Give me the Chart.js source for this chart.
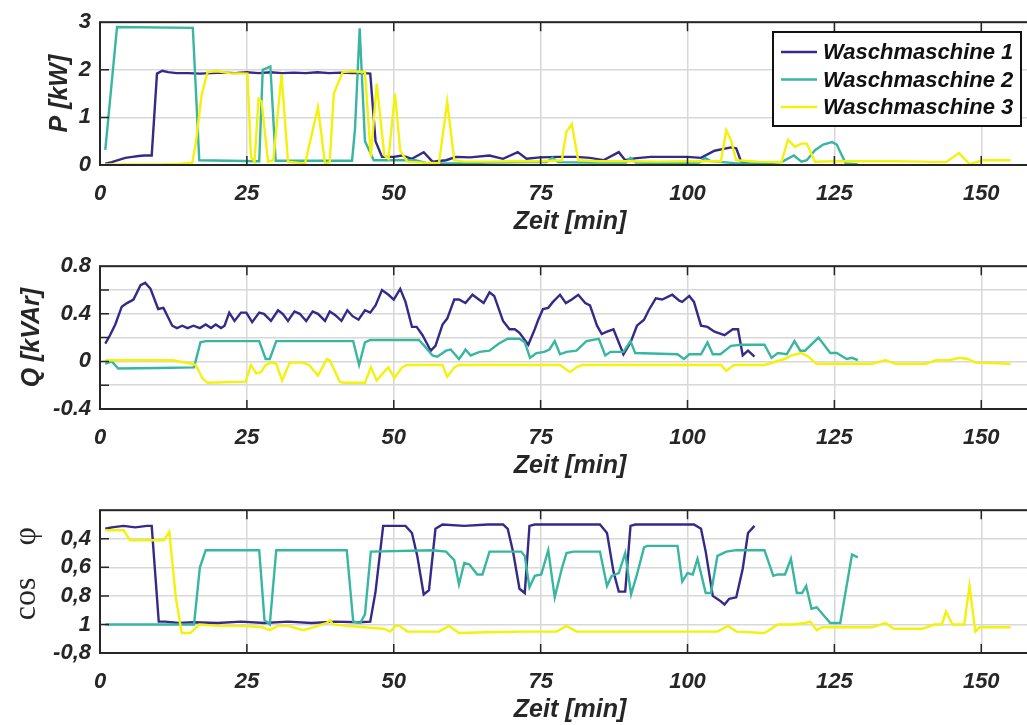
<!DOCTYPE html>
<html lang="de">
<head>
<meta charset="UTF-8">
<title>Waschmaschinen P / Q / cos phi</title>
<script src="https://cdn.jsdelivr.net/npm/chart.js"></script>
<style>
  body { margin:0; background:#fff; overflow:hidden; width:1027px; height:725px; }
  .panel { position:absolute; left:0; width:1040px; height:244px; }
</style>
</head>
<body>
<div class="panel" style="top:0px"><canvas id="chartP" width="1040" height="244"></canvas></div>
<div class="panel" style="top:244px"><canvas id="chartQ" width="1040" height="244"></canvas></div>
<div class="panel" style="top:488px"><canvas id="chartCos" width="1040" height="244"></canvas></div>
<script>
// ---- Daten (Zeit in min) ----
const seriesNames = ['Waschmaschine 1', 'Waschmaschine 2', 'Waschmaschine 3'];
const seriesColors = ['#352A87', '#38B6A0', '#F2F20C'];

// Wirkleistung P [kW]
const tP1 = [0.9,2,4.3,5.5,6.6,7.5,8.8,9.7,10.6,11.6,13,15,17,19,21,23,25,27,29,31,33,35,37,39,41,43,45,46,46.9,48,50,51.4,53.1,55.1,56.6,58.9,60.6,63,66.3,68.6,71.1,72.6,74.9,78,81,83.4,85.7,88.3,89.4,91,93.7,97,100,102.3,104.6,107.4,108.3,109.1,110.5];
const P1  = [0.03,0.06,0.15,0.17,0.19,0.2,0.2,1.92,1.98,1.95,1.93,1.93,1.92,1.93,1.94,1.93,1.95,1.93,1.95,1.93,1.94,1.93,1.95,1.93,1.94,1.93,1.93,1.92,0.5,0.17,0.17,0.2,0.13,0.27,0.07,0.1,0.17,0.16,0.2,0.13,0.27,0.13,0.16,0.17,0.17,0.15,0.1,0.27,0.1,0.14,0.17,0.17,0.17,0.15,0.3,0.37,0.35,0.08,0.02];
const tP2 = [0.9,2.9,15.8,16.9,27.1,27.7,29,29.9,42.9,43.4,44.2,45.1,46.6,53.7,56,61,66,72,76,77,78,84,89.5,90.3,91.2,96,102,103,104,108,113,116,118.1,119.4,120.3,121.7,123.1,124.6,125.4,126.9,129];
const P2  = [0.32,2.9,2.88,0.1,0.08,2.0,2.07,0.09,0.09,0.75,2.87,0.5,0.1,0.1,0.03,0.03,0.05,0.06,0.06,0.15,0.06,0.05,0.05,0.15,0.05,0.04,0.05,0.15,0.08,0.04,0.03,0.06,0.2,0.07,0.1,0.31,0.43,0.48,0.43,0.04,0.01];
const tP3 = [0.9,5,10,13.4,15.7,16.3,17.3,18.3,20,22,25.1,25.7,26.3,27,27.5,28.6,29.5,30.9,32,34.9,37.1,38.3,39.1,39.8,41.3,43,45.1,46.1,47.1,48.4,49.1,50.2,51.1,52.3,55,57.7,59.1,60.3,62,66,70,75,78.6,79.4,80.3,81.4,85,90,95,100,105.7,106.6,107.4,108.3,112,116,117.1,118.3,119.4,120.3,121.7,125,130,135,140,144,146.2,148,150.3,155];
const P3  = [0.01,0.01,0.01,0.02,0.05,0.45,1.47,1.95,1.97,1.93,1.92,0.17,0.07,1.39,1.33,0.07,0.1,1.9,0.07,0.03,1.21,0.03,0.06,1.5,1.95,1.97,1.95,0.17,1.71,0.2,0.13,1.5,0.3,0.07,0.05,0.04,1.33,0.1,0.07,0.07,0.08,0.08,0.1,0.7,0.86,0.1,0.08,0.08,0.07,0.08,0.08,0.73,0.52,0.1,0.07,0.06,0.53,0.38,0.45,0.45,0.07,0.08,0.08,0.08,0.07,0.06,0.25,0.02,0.1,0.1];

// Blindleistung Q [kVAr]
const tQ1 = [0.9,1.7,2.6,3.7,4.6,5.7,6.9,7.7,8.6,9.9,10.8,12.3,13.1,14,14.9,15.9,17,18,18.9,19.7,20.6,21.2,22,22.9,24,24.9,25.9,27.1,27.9,29.1,30.3,31.1,32,33.1,34,35.1,36.2,37.1,38.3,39.1,40,41.1,42.1,43,44,45.1,46,46.9,48,49.1,50,51.1,52,53.1,53.9,54.9,56.3,57.1,58.3,59.1,60.3,61.1,62.2,63.4,64.2,65.3,66.3,67.1,68.6,69.7,70.6,71.4,72.9,74,74.6,75.4,76.3,77.1,78.3,79.3,80.3,81.4,82.6,83.4,84.6,85.4,86.3,87.4,89.1,90.3,91.4,92.6,93.4,94.6,95.7,97.4,98.6,99.1,100.3,101.1,102.3,103.4,104.6,106.3,107.7,108.6,109.4,110.3,111.4];
const Q1  = [0.15,0.22,0.31,0.46,0.49,0.52,0.64,0.66,0.61,0.44,0.45,0.3,0.28,0.3,0.28,0.3,0.28,0.31,0.28,0.31,0.28,0.3,0.41,0.34,0.41,0.41,0.33,0.41,0.4,0.34,0.43,0.4,0.34,0.42,0.4,0.34,0.42,0.4,0.34,0.42,0.39,0.34,0.43,0.38,0.35,0.43,0.41,0.47,0.6,0.56,0.52,0.61,0.5,0.29,0.29,0.22,0.09,0.13,0.31,0.36,0.52,0.52,0.49,0.56,0.53,0.49,0.58,0.55,0.34,0.27,0.27,0.24,0.14,0.27,0.35,0.44,0.45,0.5,0.56,0.49,0.52,0.56,0.49,0.47,0.3,0.23,0.25,0.27,0.06,0.16,0.3,0.35,0.43,0.53,0.52,0.56,0.51,0.5,0.55,0.5,0.3,0.29,0.25,0.22,0.27,0.27,0.05,0.09,0.04];
const tQ2 = [0.9,2,3.1,10,16,17.1,18,27.1,28.2,28.9,30,43.1,44.1,45.1,46,54.3,55.4,56.6,57.4,58.9,59.7,61.1,61.7,62.2,63.1,64.6,66.3,67.9,69.4,71.4,72.3,73.2,74.3,75.6,76.5,77.4,78.3,79.4,81.1,82.8,84.9,86,86.9,89.1,90.3,91.1,98.3,99.4,100.3,102.3,103.4,104.3,105.6,107.4,109.1,113.1,114.3,115.4,116.9,118.2,119.2,120,122.3,124.3,125.4,127.1,128,129];
const Q2  = [-0.02,0,-0.06,-0.055,-0.05,0.16,0.17,0.17,0.02,0.02,0.17,0.17,-0.03,0.16,0.18,0.18,0.12,0.05,0.04,0.09,0.1,0.02,0.06,0.1,0.05,0.08,0.09,0.15,0.19,0.19,0.16,0.03,0.07,0.08,0.1,0.17,0.06,0.08,0.09,0.17,0.19,0.05,0.08,0.08,0.17,0.07,0.06,0.02,0.06,0.06,0.16,0.06,0.06,0.13,0.14,0.14,0.03,0.07,0.06,0.17,0.09,0.09,0.2,0.07,0.07,0.02,0.03,0.01];
const tQ3 = [0.9,5,12.3,15.7,16.3,17.4,18.3,24.8,25.7,26.6,27.4,28.2,29.1,30,31,32.3,34.5,35.6,37.1,38.6,39.1,40.8,41.4,45.1,46.1,47.1,48.3,49.1,50.1,51.4,52.3,58.3,59.1,60.3,61.1,78.3,80,81.1,82,105.7,106.6,107.9,113.1,116.5,117.7,119.4,120.6,121.9,131.4,133.7,135.4,140.6,142.3,144.5,146.3,147.7,149.1,155];
const Q3  = [0.01,0.01,0.01,-0.02,-0.03,-0.14,-0.18,-0.17,-0.03,-0.1,-0.09,-0.03,-0.01,-0.02,-0.16,-0.01,-0.01,-0.03,-0.12,0.02,0.01,-0.17,-0.18,-0.18,-0.05,-0.16,-0.09,-0.05,-0.14,-0.05,-0.03,-0.03,-0.13,-0.05,-0.03,-0.03,-0.09,-0.05,-0.03,-0.03,-0.08,-0.03,-0.03,0.02,0.05,0.07,0.04,-0.02,-0.02,0.01,-0.02,-0.02,0.01,0.01,0.03,0.02,-0.01,-0.02];

// cos phi, gefaltete Achse: Werte > 1 stehen fuer kapazitiv (1.2 = -0,8)
const tC1 = [0.9,2,4,6,8,8.8,10,11.1,13.4,16,20,24,28,32,36,40,44,46,46.9,48.2,52,53.1,54,55.1,56,57.1,58.3,62,66,68.6,69.4,70.3,71.4,72.3,73.1,74,80,85.1,86.3,87.4,88.3,89.4,90.3,91.1,96,101.1,102.3,103.1,104.3,105.4,106.3,107.1,108.3,109.4,110.3,111.4];
const C1  = [0.33,0.32,0.31,0.32,0.31,0.31,0.98,0.98,0.99,0.985,0.99,0.98,0.99,0.98,0.99,0.98,0.985,0.98,0.77,0.31,0.31,0.36,0.52,0.79,0.76,0.33,0.3,0.31,0.3,0.3,0.33,0.49,0.75,0.78,0.31,0.3,0.3,0.3,0.36,0.63,0.77,0.77,0.31,0.3,0.3,0.3,0.33,0.49,0.8,0.83,0.86,0.82,0.81,0.61,0.36,0.31];
const tC2 = [0.9,16,17,18,27.1,28,28.9,30,42,43.1,44.3,45.1,46.1,56.6,58.9,60.3,61.1,62,62.9,64.2,65.1,66.3,71.7,72.3,73.1,74,75.1,76.3,77.4,78.6,79.4,80.6,85.1,86.3,87.1,88.3,89.4,90.4,91.4,92.6,93.1,98.3,99.1,100,100.9,101.7,103.1,104,105.1,106.6,108.3,113.1,114.6,115.4,116.6,117.6,118.6,119.5,120.2,121.1,122,124.3,126,128,129];
const C2  = [1,1,0.6,0.48,0.48,0.97,1,0.48,0.48,0.98,0.99,0.93,0.49,0.48,0.49,0.55,0.72,0.57,0.58,0.65,0.65,0.49,0.49,0.52,0.74,0.66,0.65,0.48,0.81,0.61,0.5,0.49,0.49,0.73,0.66,0.64,0.5,0.79,0.65,0.46,0.45,0.45,0.7,0.64,0.65,0.54,0.78,0.78,0.52,0.49,0.48,0.48,0.66,0.65,0.65,0.54,0.78,0.78,0.73,0.89,0.88,0.99,0.99,0.51,0.53];
const tC3 = [0.9,4,5.1,10.9,11.8,12.9,13.9,15.4,16.9,20,24,27.7,28.9,30.3,32,34.6,36.3,38.6,39.1,39.7,42,44.9,48.3,49.4,50.3,51,52.3,57.7,59.4,61.1,66,72,77.7,79.4,81.1,90,100,105.1,106.9,108.3,113.1,115.4,118,120,120.9,122,122.9,131.4,133.7,135.1,140,142.1,143.3,144,145.1,147.1,148,149,149.7,155];
const C3  = [0.34,0.34,0.41,0.41,0.35,0.81,1.06,1.06,1,1.01,1.01,1.02,1.04,1.01,1.01,1.04,1.02,0.99,0.97,1,1.01,1.02,1.03,1.05,1.01,1.01,1.05,1.05,1.01,1.06,1.055,1.05,1.05,1.01,1.05,1.05,1.05,1.05,1.01,1.05,1.06,1,1,0.99,0.98,1.04,1.02,1.02,0.99,1.03,1.03,1,1,0.91,1,1,0.73,1.05,1.02,1.02];

// Achsbeschriftungen (Index = (Wert - min) / Schritt)
const xTickLabels = ['0', '25', '50', '75', '100', '125', '150'];
const pTickLabels = ['0', '1', '2', '3'];
const qTickLabels = ['-0.4', '', '0', '', '0.4', '', '0.8'];
const cosTickLabels = ['', '0,4', '0,6', '0,8', '1', '-0,8'];

// ---- Darstellung ----
const textColor = '#262626';
const gridColor = '#d8d8d8';
const fontSans = '"Liberation Sans", Arial, sans-serif';
const tickFont = { family: fontSans, size: 22, weight: 'bold', style: 'italic' };
const titleFont = { family: fontSans, size: 25, weight: 'bold', style: 'italic' };

function pts(t, v) { return t.map((x, i) => ({ x: x, y: v[i] })); }
function labelAt(list, min, step) { return v => list[Math.round((v - min) / step)]; }

function makeSets(list) {
  return list.map((d, i) => ({
    label: seriesNames[i],
    data: pts(d[0], d[1]),
    borderColor: seriesColors[i],
    backgroundColor: seriesColors[i],
    borderWidth: 2.4,
    pointRadius: 0,
    tension: 0,
    order: 2 - i
  }));
}

// Rahmen + nach innen zeigende Striche (MATLAB-Stil)
const framePlugin = {
  id: 'frame',
  afterDatasetsDraw(chart) {
    const { ctx, chartArea: a, scales } = chart;
    ctx.save();
    ctx.strokeStyle = textColor;
    ctx.lineWidth = 1.5;
    ctx.beginPath();
    scales.x.ticks.forEach(tk => {
      if (tk.value <= scales.x.min) return;
      const px = scales.x.getPixelForValue(tk.value);
      ctx.moveTo(px, a.bottom); ctx.lineTo(px, a.bottom - 9);
      ctx.moveTo(px, a.top); ctx.lineTo(px, a.top + 9);
    });
    scales.y.ticks.forEach(tk => {
      if (tk.value <= scales.y.min + 1e-6 || tk.value >= scales.y.max - 1e-6) return;
      const py = scales.y.getPixelForValue(tk.value);
      ctx.moveTo(a.left, py); ctx.lineTo(a.left + 9, py);
    });
    ctx.stroke();
    ctx.lineWidth = 2;
    ctx.strokeRect(a.left, a.top, a.right - a.left, a.bottom - a.top);
    ctx.restore();
  }
};

// Legende im Diagramm oben rechts
const boxLegend = {
  id: 'boxLegend',
  afterDraw(chart, args, opts) {
    if (!opts.show) return;
    const { ctx } = chart;
    const x0 = 773, y0 = 32, w = 248, h = 94;
    ctx.save();
    ctx.fillStyle = '#fff';
    ctx.fillRect(x0, y0, w, h);
    ctx.strokeStyle = '#111';
    ctx.lineWidth = 2;
    ctx.strokeRect(x0, y0, w, h);
    ctx.font = 'italic bold 22px ' + fontSans;
    ctx.textBaseline = 'middle';
    chart.data.datasets.forEach((ds, i) => {
      const cy = y0 + 20 + i * 27.5;
      ctx.strokeStyle = ds.borderColor;
      ctx.lineWidth = 2.4;
      ctx.beginPath();
      ctx.moveTo(x0 + 8, cy); ctx.lineTo(x0 + 44, cy);
      ctx.stroke();
      ctx.fillStyle = '#111';
      ctx.fillText(ds.label, x0 + 50, cy + 1);
    });
    ctx.restore();
  }
};

function makeChart(id, sets, yOpts, yTitle, showLegend) {
  return new Chart(document.getElementById(id), {
    type: 'line',
    data: { datasets: sets },
    plugins: [framePlugin, boxLegend],
    options: {
      responsive: false,
      animation: false,
      layout: { padding: { top: 19, left: 0, right: 0, bottom: 0 } },
      plugins: { legend: { display: false }, tooltip: { enabled: false }, boxLegend: { show: showLegend } },
      scales: {
        x: {
          type: 'linear', min: 0, max: 160,
          afterFit: s => { s.height = 79; },
          ticks: {
            stepSize: 25, includeBounds: false, maxRotation: 0, autoSkip: false, padding: 16,
            color: textColor, font: tickFont,
            callback: labelAt(xTickLabels, 0, 25)
          },
          grid: { color: gridColor, lineWidth: 1.5, drawTicks: false },
          border: { display: false },
          title: { display: true, text: 'Zeit [min]', color: textColor, font: titleFont, padding: { top: 0, bottom: 7 } }
        },
        y: Object.assign({
          afterFit: s => { s.width = 100; },
          grid: { color: gridColor, lineWidth: 1.5, drawTicks: false },
          border: { display: false }
        }, yOpts, { title: yTitle })
      }
    }
  });
}

makeChart('chartP', makeSets([[tP1, P1], [tP2, P2], [tP3, P3]]), {
  min: 0, max: 3,
  ticks: { stepSize: 1, autoSkip: false, padding: 9, color: textColor, font: tickFont, callback: labelAt(pTickLabels, 0, 1) }
}, { display: true, text: 'P [kW]', color: textColor, font: titleFont, padding: { top: 45, bottom: 0 } }, true);

makeChart('chartQ', makeSets([[tQ1, Q1], [tQ2, Q2], [tQ3, Q3]]), {
  min: -0.4, max: 0.8,
  ticks: { stepSize: 0.2, autoSkip: false, padding: 9, color: textColor, font: tickFont, callback: labelAt(qTickLabels, -0.4, 0.2) }
}, { display: true, text: 'Q [kVAr]', color: textColor, font: titleFont, padding: { top: 17, bottom: 0 } }, false);

makeChart('chartCos', makeSets([[tC1, C1], [tC2, C2], [tC3, C3]]), {
  min: 0.2, max: 1.2, reverse: true,
  ticks: { stepSize: 0.2, autoSkip: false, padding: 9, color: textColor, font: tickFont, callback: labelAt(cosTickLabels, 0.2, 0.2) }
}, { display: true, text: '\u2002cos\u2003φ', color: textColor,
     font: { family: '"Liberation Serif", "DejaVu Serif", serif', size: 32, weight: 'normal', style: 'normal' },
     padding: { top: 7, bottom: 0 } }, false);
</script>
</body>
</html>
